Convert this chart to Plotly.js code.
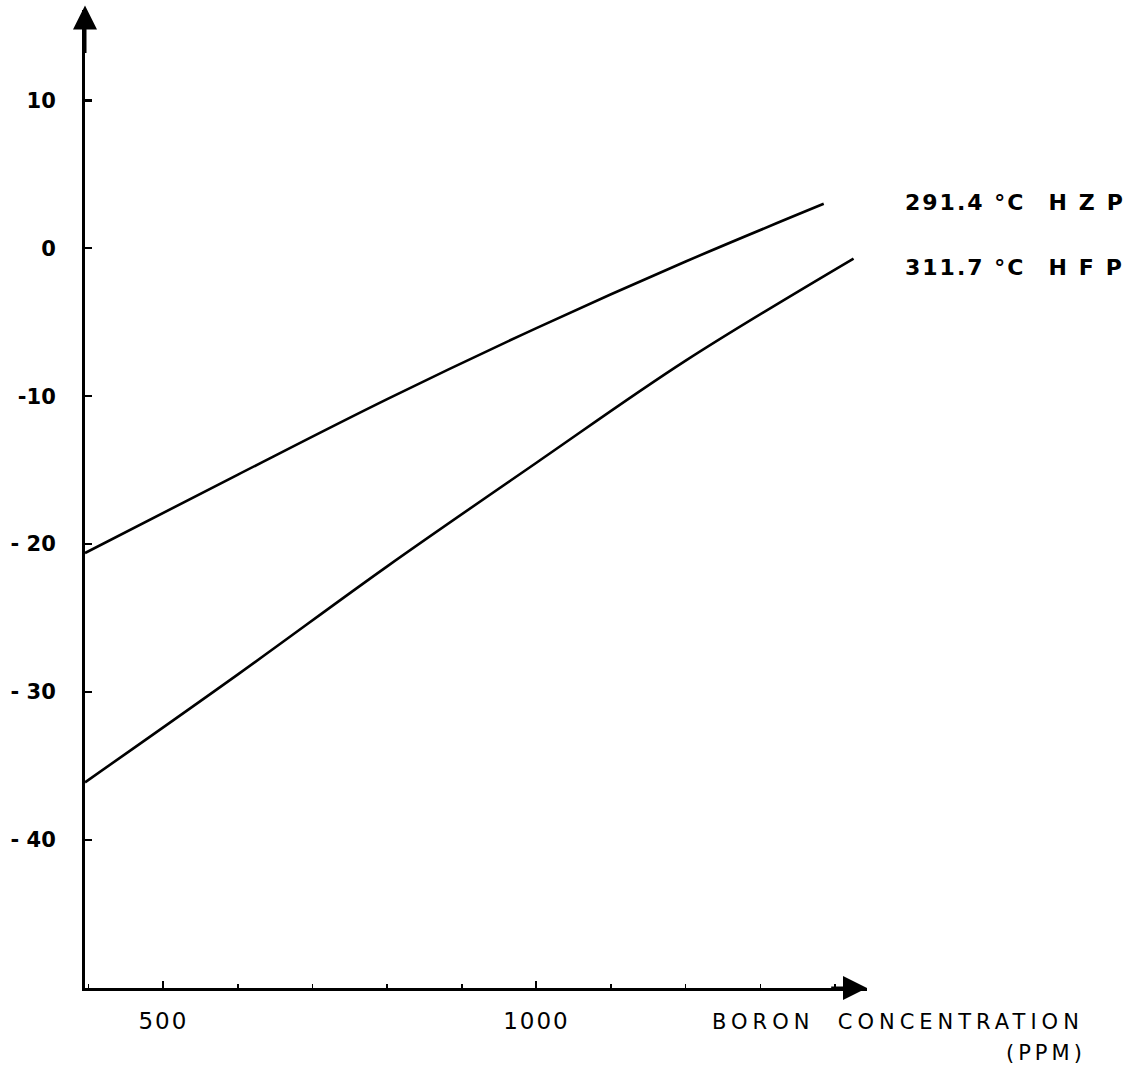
<!DOCTYPE html>
<html>
<head>
<meta charset="utf-8">
<script src="https://cdn.plot.ly/plotly-3.0.1.min.js"></script>
<style>
  html, body { margin: 0; padding: 0; background: #fff; }
  #chart { width: 1142px; height: 1078px; }
</style>
</head>
<body>
<div id="chart"></div>
<script>
// Boron concentration (ppm) and the corresponding coefficient, per operating state
const hzpBoron = [395, 600, 800, 1000, 1200, 1385];
const hzpValue = [-20.6, -15.3, -10.2, -5.4, -0.9, 3.0];

const hfpBoron = [395, 600, 800, 1000, 1200, 1425];
const hfpValue = [-36.1, -28.8, -21.5, -14.5, -7.6, -0.7];

const hzpTemp = "291.4 °C", hzpState = "HZP";
const hfpTemp = "311.7 °C", hfpState = "HFP";

const yTickVals = [10, 0, -10, -20, -30, -40];
const yTickText = ["10", "0", "-10", "- 20", "- 30", "- 40"];
const xTickVals = [500, 1000];
const xTickText = ["500", "1000"];

const xTitle = "BORON\u00A0\u00A0CONCENTRATION";
const xUnit = "(PPM)";

const xRange = [395, 1443];
const yRange = [-50, 16.1];

const font = "DejaVu Sans, Verdana, sans-serif";

const spaced = (s, px) => '<span style="letter-spacing:' + px + 'px">' + s + '</span>';

const curve = (x, y, name) => ({
  type: "scatter",
  mode: "lines",
  x: x,
  y: y,
  name: name,
  line: { color: "#000", width: 2.6, shape: "spline", smoothing: 1 },
  hoverinfo: "x+y",
  showlegend: false
});

const data = [
  curve(hzpBoron, hzpValue, hzpTemp + " " + hzpState),
  curve(hfpBoron, hfpValue, hfpTemp + " " + hfpState)
];

const curveLabel = (temp, state) =>
  spaced(temp, 2) + "\u00A0\u00A0\u00A0" + spaced(state, 12);

const layout = {
  width: 1142,
  height: 1078,
  margin: { l: 85, r: 275, t: 10, b: 90 },
  paper_bgcolor: "#fff",
  plot_bgcolor: "#fff",
  showlegend: false,
  font: { family: font, color: "#000", size: 20 },
  xaxis: {
    range: xRange,
    showgrid: false,
    zeroline: false,
    showline: true,
    linecolor: "#000",
    linewidth: 3,
    tickmode: "array",
    tickvals: xTickVals,
    ticktext: xTickText.map(t => spaced(t, 2)),
    ticks: "inside",
    ticklen: 7,
    tickwidth: 2,
    tickcolor: "#000",
    ticklabelstandoff: 10,
    tickfont: { family: font, size: 23, color: "#000" },
    minor: { dtick: 100, tick0: 0, ticks: "inside", ticklen: 4, tickwidth: 1.5, tickcolor: "#000" }
  },
  yaxis: {
    range: yRange,
    showgrid: false,
    zeroline: false,
    showline: true,
    linecolor: "#000",
    linewidth: 3,
    tickmode: "array",
    tickvals: yTickVals,
    ticktext: yTickText,
    ticks: "inside",
    ticklen: 7,
    tickwidth: 2.5,
    tickcolor: "#000",
    ticklabelstandoff: 22,
    tickfont: { family: font, size: 21, color: "#000", weight: "bold" }
  },
  annotations: [
    // arrowheads at the ends of both axes
    {
      xref: "x", yref: "y", axref: "x", ayref: "y",
      x: xRange[0], y: yRange[1] + 0.3, ax: xRange[0], ay: yRange[1] - 3,
      text: "", showarrow: true, arrowhead: 2, arrowsize: 1.6, arrowwidth: 3, arrowcolor: "#000"
    },
    {
      xref: "x", yref: "y", axref: "x", ayref: "y",
      x: xRange[1], y: yRange[0], ax: xRange[1] - 50, ay: yRange[0],
      text: "", showarrow: true, arrowhead: 2, arrowsize: 1.6, arrowwidth: 3, arrowcolor: "#000"
    },
    // curve labels
    {
      xref: "paper", yref: "y", x: 1.046, y: hzpValue[hzpValue.length - 1] + 0.1,
      xanchor: "left", yanchor: "middle", showarrow: false,
      text: curveLabel(hzpTemp, hzpState), font: { family: font, size: 22, weight: "bold", color: "#000" }
    },
    {
      xref: "paper", yref: "y", x: 1.046, y: hfpValue[hfpValue.length - 1] - 0.6,
      xanchor: "left", yanchor: "middle", showarrow: false,
      text: curveLabel(hfpTemp, hfpState), font: { family: font, size: 22, weight: "bold", color: "#000" }
    },
    // axis title
    {
      xref: "paper", yref: "paper", x: 1.280, y: -0.0348,
      xanchor: "right", yanchor: "middle", showarrow: false,
      text: spaced(xTitle, 5), font: { family: font, size: 21, color: "#000" }
    },
    {
      xref: "paper", yref: "paper", x: 1.2826, y: -0.0665,
      xanchor: "right", yanchor: "middle", showarrow: false,
      text: spaced(xUnit, 4), font: { family: font, size: 21, color: "#000" }
    }
  ]
};

Plotly.newPlot("chart", data, layout, { staticPlot: true, displayModeBar: false });
</script>
</body>
</html>
